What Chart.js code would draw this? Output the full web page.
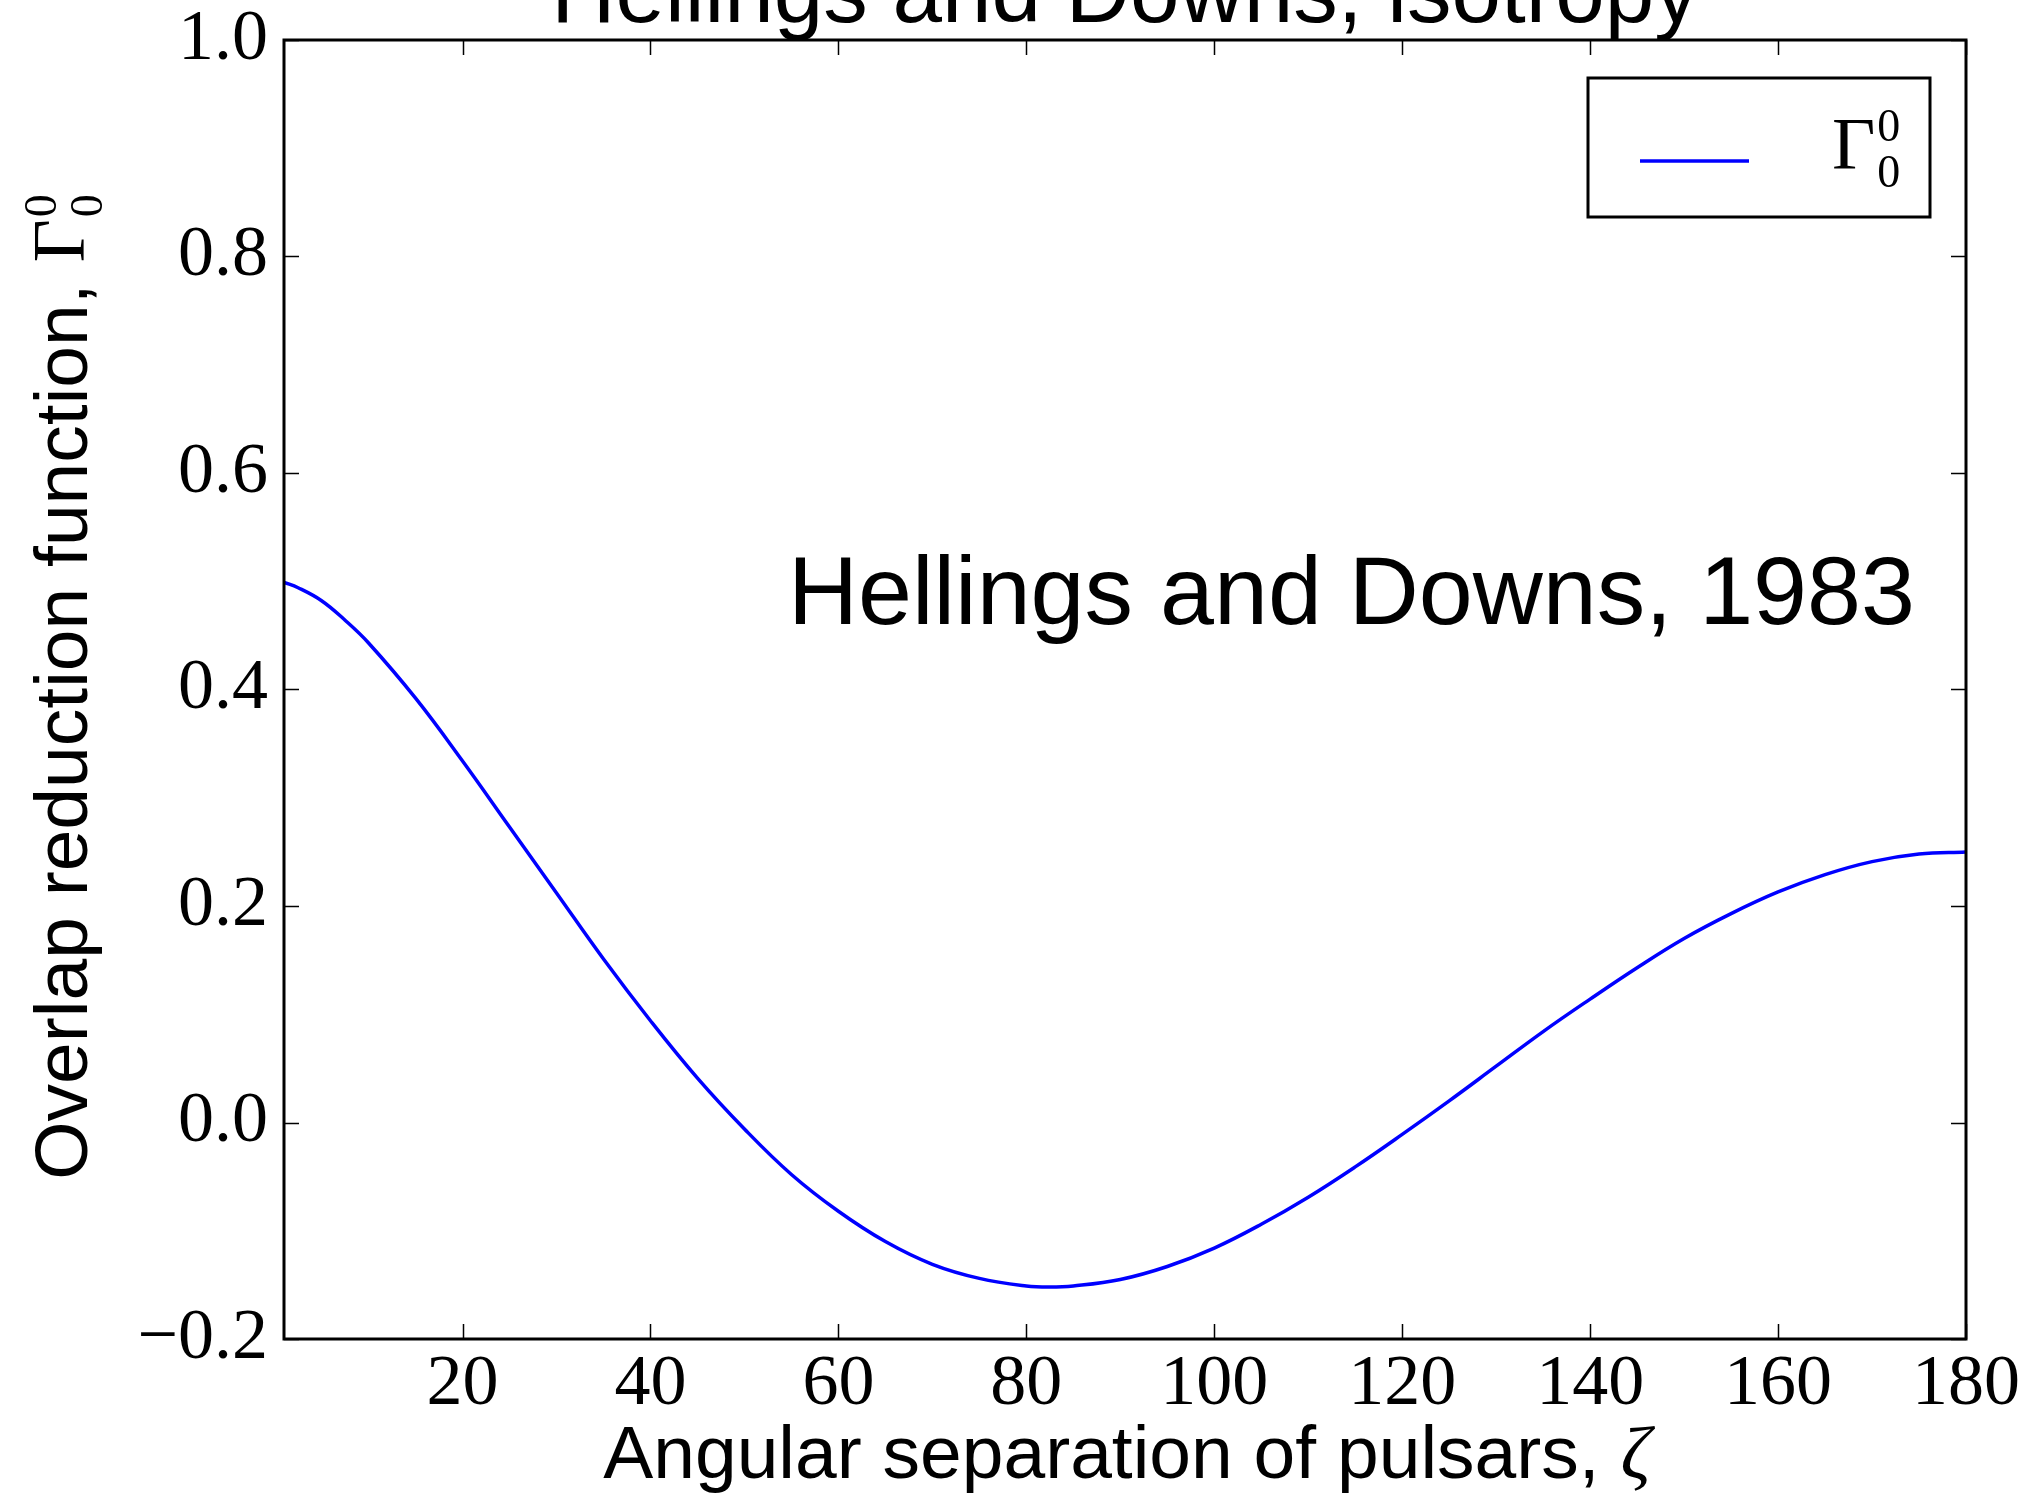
<!DOCTYPE html>
<html>
<head>
<meta charset="utf-8">
<title>Hellings and Downs, isotropy</title>
<script src="https://cdn.jsdelivr.net/npm/chart.js@4.4.1/dist/chart.umd.min.js"></script>
<style>
  html, body { margin: 0; padding: 0; background: #fff; }
  canvas { display: block; }
</style>
</head>
<body>
<canvas id="hd" width="2031" height="1494"></canvas>
<script>
// angular separation of the pulsar pair, degrees
const zeta = [1, 2.5, 5, 7.5, 10, 15, 20, 25, 30, 35, 40, 45, 50, 55, 60, 65, 70, 75, 80, 82.5, 85, 90,
  95, 100, 105, 110, 115, 120, 125, 130, 135, 140, 145, 150, 155, 160, 165, 170, 175, 180];
// overlap reduction function, isotropic background
const gamma00 = [0.499, 0.494, 0.482, 0.464, 0.443, 0.392, 0.334, 0.273, 0.212, 0.151, 0.094, 0.041,
  -0.006, -0.048, -0.082, -0.110, -0.131, -0.144, -0.151, -0.152, -0.151, -0.145,
  -0.133, -0.116, -0.094, -0.069, -0.041, -0.011, 0.020, 0.052, 0.084, 0.114,
  0.143, 0.170, 0.193, 0.213, 0.229, 0.241, 0.248, 0.250];

const xTickVals = [20, 40, 60, 80, 100, 120, 140, 160, 180];
const yTickVals = [-0.2, 0.0, 0.2, 0.4, 0.6, 0.8, 1.0];

const titleText = 'Hellings and Downs, isotropy';
const noteText = 'Hellings and Downs, 1983';
const xLabelText = 'Angular separation of pulsars, ';
const yLabelText = 'Overlap reduction function, ';

const SERIF = '"Liberation Serif", "Times New Roman", serif';
const SANS = '"Liberation Sans", Arial, Helvetica, sans-serif';
const BLUE = '#0000ff';

// Γ with stacked 0 super/subscript; returns advance width
function drawGamma(ctx, x, y) {
  ctx.font = '75px ' + SERIF;
  ctx.fillText('Γ', x, y);
  const w = ctx.measureText('Γ').width;
  ctx.font = '46px ' + SERIF;
  ctx.fillText('0', x + w + 2, y - 28);
  ctx.fillText('0', x + w + 2, y + 18);
  return w + 2 + ctx.measureText('0').width;
}

function gammaWidth(ctx) {
  ctx.font = '75px ' + SERIF;
  const w = ctx.measureText('Γ').width;
  ctx.font = '46px ' + SERIF;
  return w + 2 + ctx.measureText('0').width;
}

// frame, inward ticks, titles, note and legend
const decorations = {
  id: 'decorations',
  afterDatasetsDraw(chart) {
    const { ctx, chartArea: a } = chart;
    const xs = chart.scales.x, ys = chart.scales.y;
    ctx.save();
    ctx.strokeStyle = '#000';
    ctx.lineWidth = 1.5;
    ctx.beginPath();
    xTickVals.forEach(v => {
      const px = Math.round(xs.getPixelForValue(v)) + 0.5;
      ctx.moveTo(px, a.bottom); ctx.lineTo(px, a.bottom - 15);
      ctx.moveTo(px, a.top); ctx.lineTo(px, a.top + 15);
    });
    yTickVals.forEach(v => {
      const py = Math.round(ys.getPixelForValue(v)) + 0.5;
      ctx.moveTo(a.left, py); ctx.lineTo(a.left + 15, py);
      ctx.moveTo(a.right, py); ctx.lineTo(a.right - 15, py);
    });
    ctx.stroke();
    ctx.lineWidth = 3;
    ctx.strokeRect(a.left, a.top, a.right - a.left, a.bottom - a.top);
    ctx.restore();
  },
  afterDraw(chart) {
    const { ctx, chartArea: a } = chart;
    const cx = (a.left + a.right) / 2;
    ctx.save();
    ctx.fillStyle = '#000';
    ctx.textBaseline = 'alphabetic';

    // title, partly above the canvas
    ctx.textAlign = 'center';
    ctx.font = '89px ' + SANS;
    ctx.fillText(titleText, cx, 22);

    ctx.textAlign = 'left';
    // annotation inside the axes
    ctx.font = '97px ' + SANS;
    ctx.fillText(noteText, 788, 624);

    // x axis label
    ctx.font = '75px ' + SANS;
    const wx = ctx.measureText(xLabelText).width;
    ctx.font = 'italic 75px ' + SERIF;
    const wz = ctx.measureText('ζ').width;
    let x0 = cx + 2 - (wx + wz) / 2;
    ctx.font = '75px ' + SANS;
    ctx.fillText(xLabelText, x0, 1478);
    ctx.font = 'italic 75px ' + SERIF;
    ctx.fillText('ζ', x0 + wx, 1478);

    // y axis label, rotated
    ctx.save();
    ctx.translate(87, 687);
    ctx.rotate(-Math.PI / 2);
    ctx.font = '75px ' + SANS;
    const wy = ctx.measureText(yLabelText).width;
    const wg = gammaWidth(ctx);
    const y0 = -(wy + wg) / 2;
    ctx.font = '75px ' + SANS;
    ctx.fillText(yLabelText, y0, 0);
    drawGamma(ctx, y0 + wy, -3);
    ctx.restore();

    // legend
    ctx.lineWidth = 3;
    ctx.strokeStyle = '#000';
    ctx.fillStyle = '#fff';
    ctx.fillRect(1588, 78, 342, 139);
    ctx.strokeRect(1588, 78, 342, 139);
    ctx.strokeStyle = BLUE;
    ctx.lineWidth = 3.5;
    ctx.beginPath();
    ctx.moveTo(1640, 161); ctx.lineTo(1749, 161);
    ctx.stroke();
    ctx.fillStyle = '#000';
    drawGamma(ctx, 1832, 169);
    ctx.restore();
  }
};

const chart = new Chart(document.getElementById('hd'), {
  type: 'line',
  data: {
    datasets: [{
      label: 'Γ00',
      data: zeta.map((z, i) => ({ x: z, y: gamma00[i] })),
      borderColor: BLUE,
      borderWidth: 3.5,
      pointRadius: 0,
      fill: false,
      tension: 0.4
    }]
  },
  options: {
    responsive: false,
    animation: false,
    devicePixelRatio: 1,
    layout: { padding: { top: 40, right: 65, left: 0, bottom: 0 } },
    plugins: { legend: { display: false }, tooltip: { enabled: false } },
    scales: {
      x: {
        type: 'linear',
        min: 1,
        max: 180,
        grid: { display: false, drawTicks: false },
        border: { display: false },
        afterBuildTicks: axis => { axis.ticks = xTickVals.map(v => ({ value: v })); },
        afterFit: axis => { axis.height = 155; axis.paddingLeft = 0; axis.paddingRight = 0; },
        ticks: {
          color: '#000',
          padding: 3,
          maxRotation: 0,
          autoSkip: false,
          font: { family: SERIF, size: 72 },
          callback: v => String(v)
        }
      },
      y: {
        min: -0.2,
        max: 1.0,
        grid: { display: false, drawTicks: false },
        border: { display: false },
        afterBuildTicks: axis => { axis.ticks = yTickVals.map(v => ({ value: v })); },
        afterFit: axis => { axis.width = 284; axis.paddingTop = 0; axis.paddingBottom = 0; },
        ticks: {
          color: '#000',
          padding: 16,
          autoSkip: false,
          font: { family: SERIF, size: 72 },
          callback: v => (v < -1e-9 ? '\u2212' : '') + Math.abs(v).toFixed(1)
        }
      }
    }
  },
  plugins: [decorations]
});
</script>
</body>
</html>
